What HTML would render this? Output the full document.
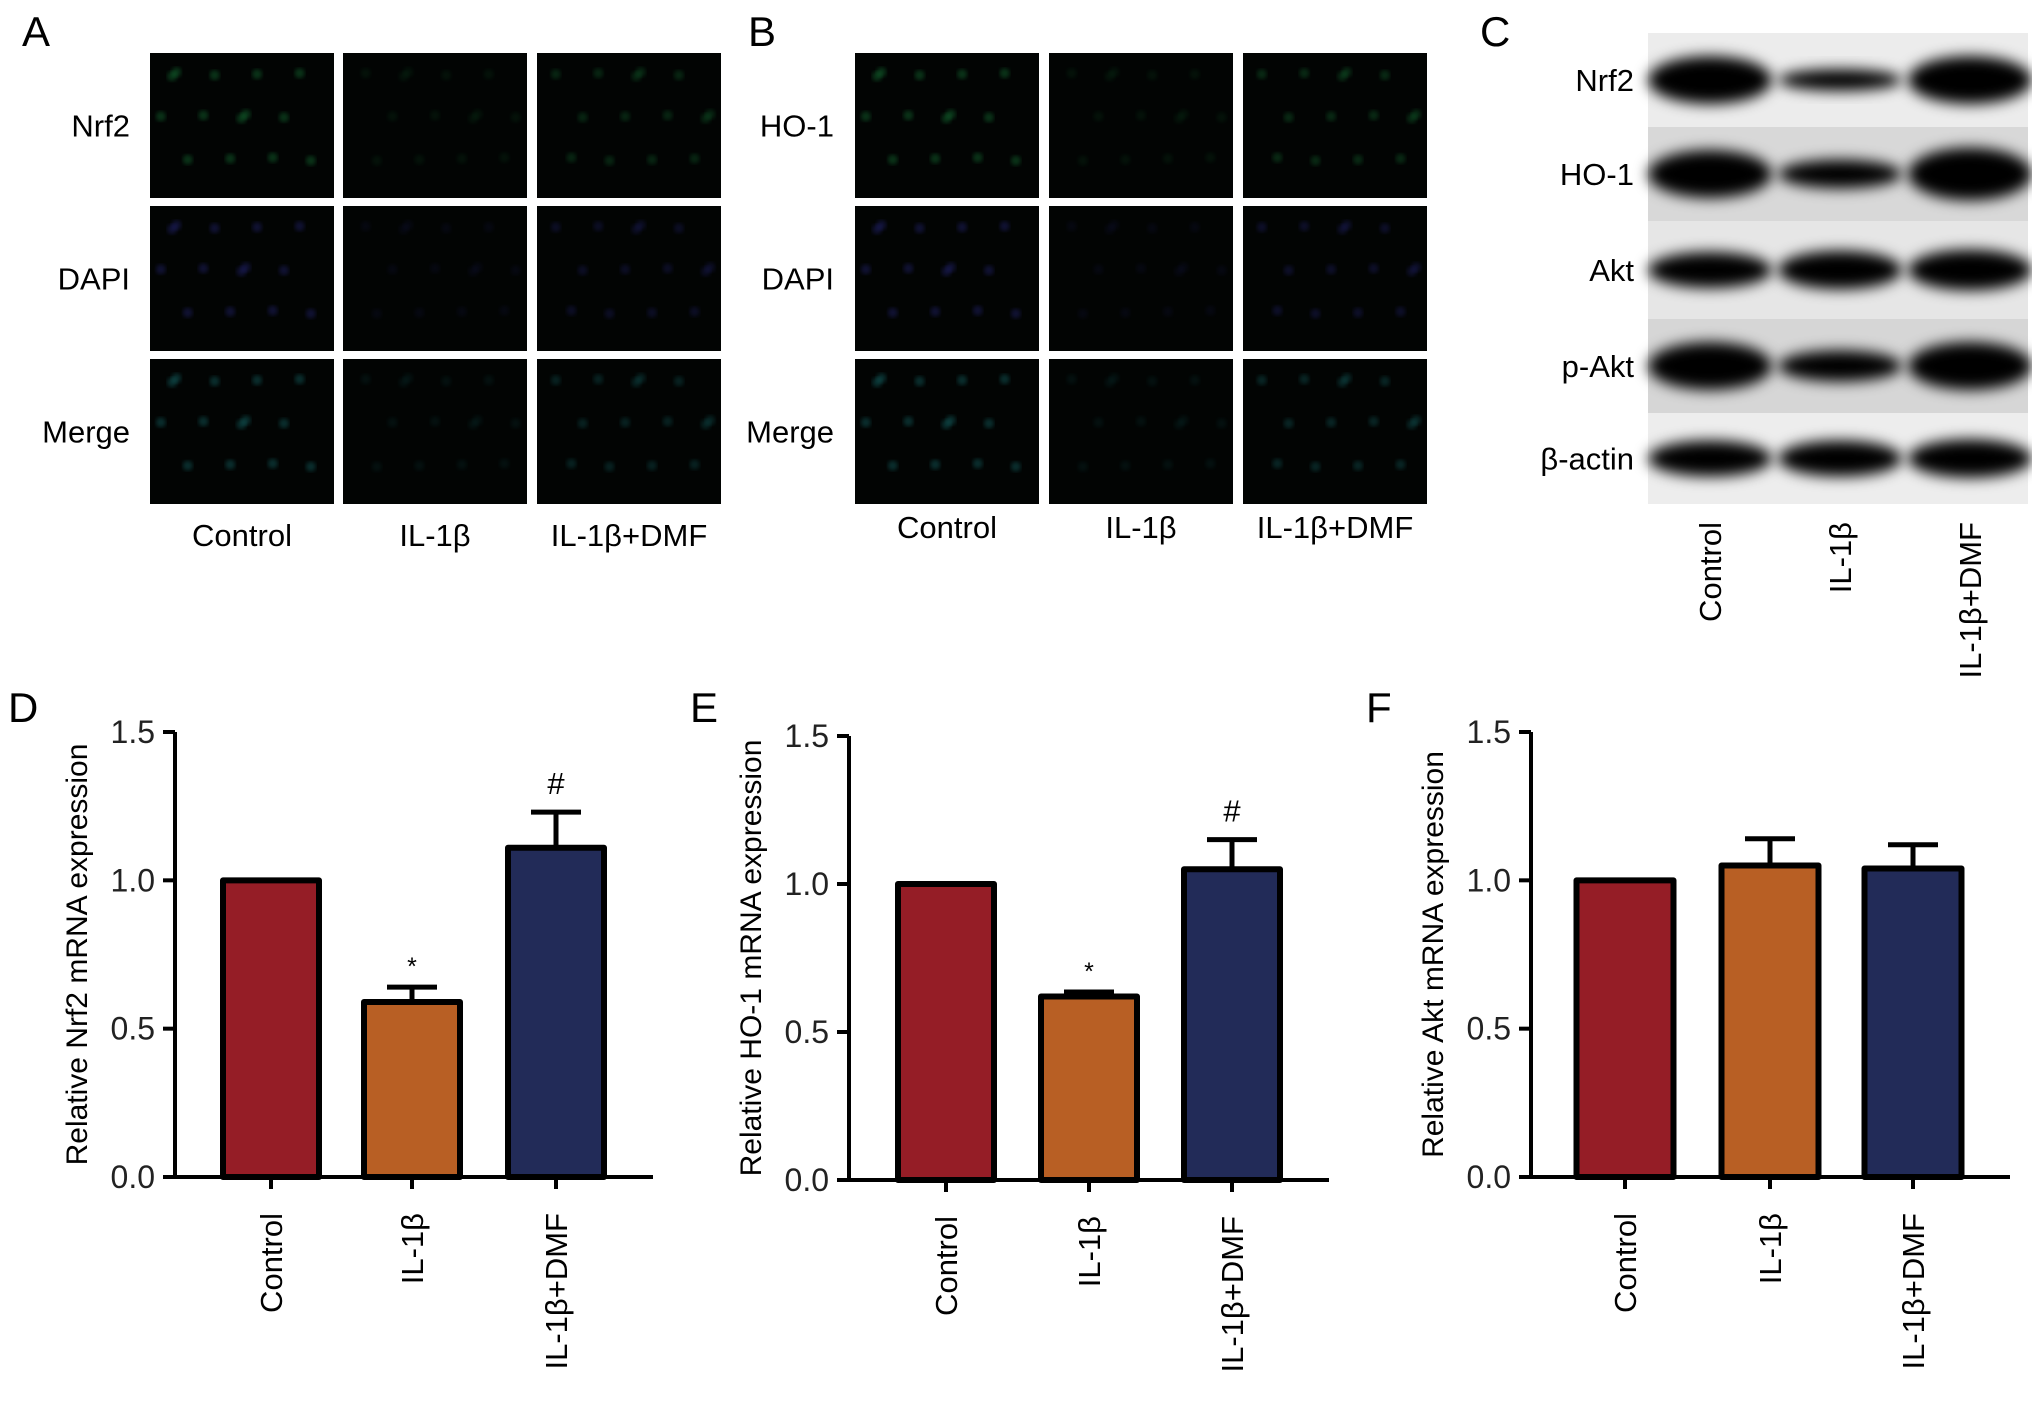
<!DOCTYPE html>
<html><head><meta charset="utf-8"><style>
html,body{margin:0;padding:0;background:#fff;}
svg{display:block;font-family:"Liberation Sans",Arial,sans-serif;}
</style></head><body>
<svg id="fig" width="2032" height="1405" viewBox="0 0 2032 1405">
<defs>
<filter id="blur" x="-20%" y="-60%" width="140%" height="220%"><feGaussianBlur stdDeviation="7"/></filter>
<filter id="blur2"><feGaussianBlur stdDeviation="2"/></filter>
</defs>
<g id="panelA"></g>
<g id="panelB"></g>
<g id="panelC"></g>
<g id="charts"></g>
</svg>
<script>
const categories = ["Control", "IL-1\u03B2", "IL-1\u03B2+DMF"];
const nrf2Values = [1.0, 0.59, 1.11];
const nrf2Errors = [0, 0.05, 0.12];
const ho1Values = [1.0, 0.62, 1.05];
const ho1Errors = [0, 0.015, 0.10];
const aktValues = [1.0, 1.05, 1.04];
const aktErrors = [0, 0.09, 0.08];
const yTicks = [0.0, 0.5, 1.0, 1.5];
const tickLabels = ["0.0", "0.5", "1.0", "1.5"];
const nrf2Marks = ["", "*", "#"];
const ho1Marks = ["", "*", "#"];
const aktMarks = ["", "", ""];
const blotRows = ["Nrf2", "HO-1", "Akt", "p-Akt", "\u03B2-actin"];
const blotIntensity = [[1.0, 0.45, 1.0], [1.0, 0.6, 1.1], [0.75, 0.8, 0.85], [1.0, 0.65, 1.0], [0.75, 0.75, 0.8]];

const NS = "http://www.w3.org/2000/svg";
function mk(tag, attrs, parent, txt) {
  const e = document.createElementNS(NS, tag);
  for (const k in attrs) e.setAttribute(k, attrs[k]);
  if (txt !== undefined) e.textContent = txt;
  parent.appendChild(e);
  return e;
}
const colors = ["#951d26", "#b85f24", "#222b58"];

function drawChart(parent, cfg) {
  const g = mk("g", {}, parent);
  
  
  const y = v => cfg.y0 - (v / 1.5) * (cfg.y0 - cfg.y15);
  const lt = mk("text", {x: cfg.letterX, y: cfg.letterY, "font-size": 42}, g, cfg.letter);
  
  
  cfg.values.forEach((v, i) => {
    const cx = cfg.barCx[i];
    const w = cfg.barW;
    if (cfg.errors[i] > 0) {
      const el = mk("path", {d: `M${cx} ${y(v)} V${y(v + cfg.errors[i])} M${cx - 25} ${y(v + cfg.errors[i])} H${cx + 25}`, stroke: "#000", "stroke-width": 5, fill: "none"}, g);
      
      
    }
    const r = mk("rect", {x: cx - w / 2, y: y(v), width: w, height: y(0) - y(v), fill: colors[i], stroke: "#000", "stroke-width": 6, "stroke-linejoin": "round"}, g);
    
    
    if (cfg.marks[i]) {
      const m = mk("text", {x: cx, y: y(v + cfg.errors[i]) - (cfg.marks[i] === "#" ? 18 : 12), "text-anchor": "middle", "font-size": cfg.marks[i] === "#" ? 31 : 25}, g, cfg.marks[i]);
      
      
    }
    const tk = mk("line", {x1: cx, x2: cx, y1: y(0), y2: y(0) + 12, stroke: "#000", "stroke-width": 4}, g);
    
    
    const lb = mk("text", {transform: `translate(${cx + 11},${y(0) + 36}) rotate(-90)`, "text-anchor": "end", "font-size": 31}, g, categories[i]);
    
    
  });
  const ax = mk("path", {d: `M${cfg.axX} ${y(1.5)} V${y(0)} H${cfg.axEnd}`, stroke: "#000", "stroke-width": 4, fill: "none"}, g);
  
  
  yTicks.forEach((t, i) => {
    const tl = mk("line", {x1: cfg.axX - 12, x2: cfg.axX, y1: y(t), y2: y(t), stroke: "#000", "stroke-width": 4}, g);
    
    
    const tx = mk("text", {x: cfg.axX - 20, y: y(t) + 11, "text-anchor": "end", "font-size": 32, fill: "#222"}, g, tickLabels[i]);
    
    
  });
  const yt = mk("text", {transform: `translate(${cfg.axX - 88},${(y(0) + y(1.5)) / 2}) rotate(-90)`, "text-anchor": "middle", "font-size": 30}, g, cfg.title);
  
  
}

const charts = document.getElementById("charts");
drawChart(charts, {name: "chart-d-nrf2", letter: "D", letterX: 8, letterY: 722, values: nrf2Values, errors: nrf2Errors, marks: nrf2Marks,
  axX: 175, axEnd: 653, y0: 1177, y15: 732, barCx: [271, 412, 556], barW: 96, title: "Relative Nrf2 mRNA expression"});
drawChart(charts, {name: "chart-e-ho1", letter: "E", letterX: 690, letterY: 722, values: ho1Values, errors: ho1Errors, marks: ho1Marks,
  axX: 849, axEnd: 1329, y0: 1180, y15: 736, barCx: [946, 1089, 1232], barW: 96, title: "Relative HO-1 mRNA expression"});
drawChart(charts, {name: "chart-f-akt", letter: "F", letterX: 1366, letterY: 722, values: aktValues, errors: aktErrors, marks: aktMarks,
  axX: 1531, axEnd: 2010, y0: 1177, y15: 732, barCx: [1625, 1770, 1913], barW: 97, title: "Relative Akt mRNA expression"});

function drawIF(parent, letter, lx, ly, colsX, rowsY, w, h, rowLabels, labelRight, colLabelY, strength) {
  mk("text", {x: lx, y: ly, "font-size": 42}, parent, letter);
  rowLabels.forEach((rl, r) => {
    const t = mk("text", {x: labelRight, y: rowsY[r] + h / 2 + 11, "text-anchor": "end", "font-size": 31}, parent, rl);
    
    
    colsX.forEach((cx, c) => {
      const rc = mk("rect", {x: cx, y: rowsY[r], width: w, height: h, fill: "#020403"}, parent);
      
      
      const col = r === 0 ? "#1f9f4a" : r === 1 ? "#3030a0" : "#1f8f90";
      const s = strength[c];
      for (let k = 0; k < 14; k++) {
        const px = cx + w * ((k * 0.377 + c * 0.21 + 0.07) % 0.9 + 0.05);
        const py = rowsY[r] + h * ((k * 0.291 + 0.11) % 0.88 + 0.05);
        mk("circle", {cx: px, cy: py, r: 5, fill: col, opacity: 0.3 * s, filter: "url(#blur2)"}, parent);
      }
    });
  });
  categories.forEach((c, i) => {
    const t = mk("text", {x: colsX[i] + w / 2, y: colLabelY, "text-anchor": "middle", "font-size": 31}, parent, c);
    
    
  });
}
drawIF(document.getElementById("panelA"), "A", 22, 46, [150, 343, 537], [53, 206, 359], 184, 145, ["Nrf2", "DAPI", "Merge"], 130, 546, [1, 0.3, 0.7]);
drawIF(document.getElementById("panelB"), "B", 748, 46, [855, 1049, 1243], [53, 206, 359], 184, 145, ["HO-1", "DAPI", "Merge"], 834, 538, [1, 0.3, 0.8]);

const pc = document.getElementById("panelC");
mk("text", {x: 1480, y: 46, "font-size": 42}, pc, "C");
const stripY = [33, 127, 221, 319, 413];
const stripH = [94, 94, 98, 94, 91];
const stripFill = ["#ececec", "#d8d8d8", "#e6e6e6", "#d6d6d6", "#ededed"];
const laneX = [1710, 1840, 1970];
blotRows.forEach((name, r) => {
  const st = mk("rect", {x: 1648, y: stripY[r], width: 380, height: stripH[r], fill: stripFill[r]}, pc);
  
  
  const lb = mk("text", {x: 1634, y: stripY[r] + stripH[r] / 2 + 11, "text-anchor": "end", "font-size": 31}, pc, name);
  
  
  laneX.forEach((lx, c) => {
    const it = blotIntensity[r][c];
    const b = mk("ellipse", {cx: lx, cy: stripY[r] + stripH[r] / 2, rx: 62, ry: 24 * it, fill: "#000", filter: "url(#blur)"}, pc);
    
    
  });
});
categories.forEach((c, i) => {
  const t = mk("text", {transform: `translate(${laneX[i] + 11},${522}) rotate(-90)`, "text-anchor": "end", "font-size": 31}, pc, c);
  
  
});
</script>
</body></html>
